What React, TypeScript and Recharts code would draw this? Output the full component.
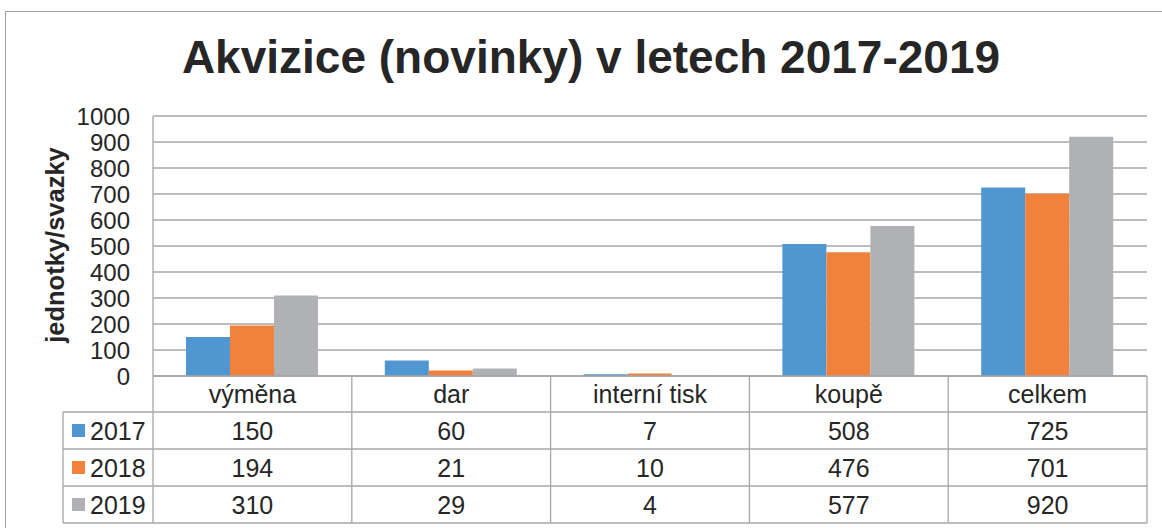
import React from 'react';
import { Bar, BarChart, CartesianGrid, XAxis, YAxis } from 'recharts';

const categories = ['výměna', 'dar', 'interní tisk', 'koupě', 'celkem'];
const years = ['2017', '2018', '2019'];
const values2017 = [150, 60, 7, 508, 725];
const values2018 = [194, 21, 10, 476, 701];
const values2019 = [310, 29, 4, 577, 920];
const yTicks = [0, 100, 200, 300, 400, 500, 600, 700, 800, 900, 1000];
const colors = ['#5097d1', '#f0823c', '#b0b1b4'];

const seriesValues = [values2017, values2018, values2019];

const data = categories.map((name, i) => ({
    name,
    y2017: values2017[i],
    y2018: values2018[i],
    y2019: values2019[i],
}));

const W = 1162;
const H = 528;
const FONT = '"Liberation Sans", Arial, sans-serif';
const TEXT = '#262626';
const LINE = '#a6a6a6';

// plot box
const Y_AXIS_W = 153;
const RIGHT = 15;
const TOP = 116;
const X_AXIS_H = 152;
const COL_W = (W - Y_AXIS_W - RIGHT) / categories.length;

// data table under the axis
const HEADER_H = 36;
const ROW_H = 37;
const LEGEND_W = 90;

const TableTick = (props: any) => {
    const { x, y, payload } = props;
    const index = payload?.index ?? props.index ?? 0;
    const left = x - COL_W / 2;
    const right = x + COL_W / 2;
    const bottom = y + HEADER_H + ROW_H * years.length;
    const rowTop = (r: number) => y + HEADER_H + ROW_H * r;

    return (
        <g>
            <text
                x={x}
                y={y + HEADER_H / 2}
                textAnchor="middle"
                dominantBaseline="central"
                fontSize={25}
                fontFamily={FONT}
                fill={TEXT}
            >
                {payload.value}
            </text>
            {seriesValues.map((vals, r) => (
                <text
                    key={r}
                    x={x}
                    y={rowTop(r) + ROW_H / 2}
                    textAnchor="middle"
                    dominantBaseline="central"
                    fontSize={25}
                    fontFamily={FONT}
                    fill={TEXT}
                >
                    {vals[index]}
                </text>
            ))}
            {years.map((_, r) => (
                <line key={r} x1={left} x2={right} y1={rowTop(r)} y2={rowTop(r)} stroke={LINE} strokeWidth={1.3} />
            ))}
            <line x1={left} x2={right} y1={bottom} y2={bottom} stroke={LINE} strokeWidth={1.3} />
            <line x1={right} x2={right} y1={y} y2={bottom} stroke={LINE} strokeWidth={1.3} />

            {/* legend column, drawn once left of the first category */}
            {index === 0 && (
                <g>
                    <line x1={left} x2={left} y1={y} y2={bottom} stroke={LINE} strokeWidth={1.3} />
                    <line
                        x1={left - LEGEND_W}
                        x2={left - LEGEND_W}
                        y1={rowTop(0)}
                        y2={bottom}
                        stroke={LINE}
                        strokeWidth={1.3}
                    />
                    {years.map((yr, r) => (
                        <g key={yr}>
                            <line
                                x1={left - LEGEND_W}
                                x2={left}
                                y1={rowTop(r)}
                                y2={rowTop(r)}
                                stroke={LINE}
                                strokeWidth={1.3}
                            />
                            <rect
                                x={left - LEGEND_W + 9}
                                y={rowTop(r) + ROW_H / 2 - 6.5}
                                width={13}
                                height={13}
                                fill={colors[r]}
                            />
                            <text
                                x={left - LEGEND_W + 27}
                                y={rowTop(r) + ROW_H / 2}
                                dominantBaseline="central"
                                fontSize={25}
                                fontFamily={FONT}
                                fill={TEXT}
                            >
                                {yr}
                            </text>
                        </g>
                    ))}
                    <line x1={left - LEGEND_W} x2={left} y1={bottom} y2={bottom} stroke={LINE} strokeWidth={1.3} />
                </g>
            )}
        </g>
    );
};

const YLabel = (props: any) => {
    const vb = props.viewBox || { x: 0, y: TOP, width: Y_AXIS_W, height: 260 };
    const cx = vb.x + 55;
    const cy = vb.y + vb.height / 2 - 1;
    return (
        <text
            x={cx}
            y={cy}
            transform={`rotate(-90, ${cx}, ${cy})`}
            textAnchor="middle"
            dominantBaseline="central"
            fontSize={25.5}
            fontWeight="bold"
            fontFamily={FONT}
            fill={TEXT}
        >
            jednotky/svazky
        </text>
    );
};

export default function App() {
    return (
        <div
            style={{
                position: 'absolute',
                left: 0,
                top: 0,
                width: W,
                height: H,
                overflow: 'hidden',
                background: '#fff',
                fontFamily: FONT,
            }}
        >
            <div
                style={{
                    position: 'absolute',
                    left: 5,
                    top: 11,
                    width: 1300,
                    height: 700,
                    border: '1px solid #a0a0a0',
                }}
            />
            <svg width={W} height={H} style={{ position: 'absolute', left: 0, top: 0 }}>
                <text
                    x={591}
                    y={73}
                    textAnchor="middle"
                    fontSize={46}
                    fontWeight="bold"
                    fontFamily={FONT}
                    fill={TEXT}
                >
                    Akvizice (novinky) v letech 2017-2019
                </text>
            </svg>
            <div style={{ position: 'absolute', left: 0, top: 0 }}>
                <BarChart
                    width={W}
                    height={H}
                    data={data}
                    margin={{ top: TOP, right: RIGHT, bottom: 0, left: 0 }}
                    barCategoryGap="16.6%"
                    barGap={0}
                >
                    <CartesianGrid vertical={false} stroke={LINE} strokeWidth={1.3} />
                    <XAxis
                        dataKey="name"
                        height={X_AXIS_H}
                        interval={0}
                        axisLine={{ stroke: LINE, strokeWidth: 1.3 }}
                        tickLine={false}
                        tickSize={0}
                        tickMargin={0}
                        tick={TableTick}
                    />
                    <YAxis
                        domain={[0, 1000]}
                        ticks={yTicks}
                        interval={0}
                        width={Y_AXIS_W}
                        axisLine={{ stroke: LINE, strokeWidth: 1.3 }}
                        tickLine={false}
                        tickMargin={17}
                        tick={{ fontSize: 24, fill: TEXT, fontFamily: FONT }}
                        label={{ content: YLabel }}
                    />
                    <Bar dataKey="y2017" name="2017" fill={colors[0]} isAnimationActive={false} />
                    <Bar dataKey="y2018" name="2018" fill={colors[1]} isAnimationActive={false} />
                    <Bar dataKey="y2019" name="2019" fill={colors[2]} isAnimationActive={false} />
                </BarChart>
            </div>
        </div>
    );
}
